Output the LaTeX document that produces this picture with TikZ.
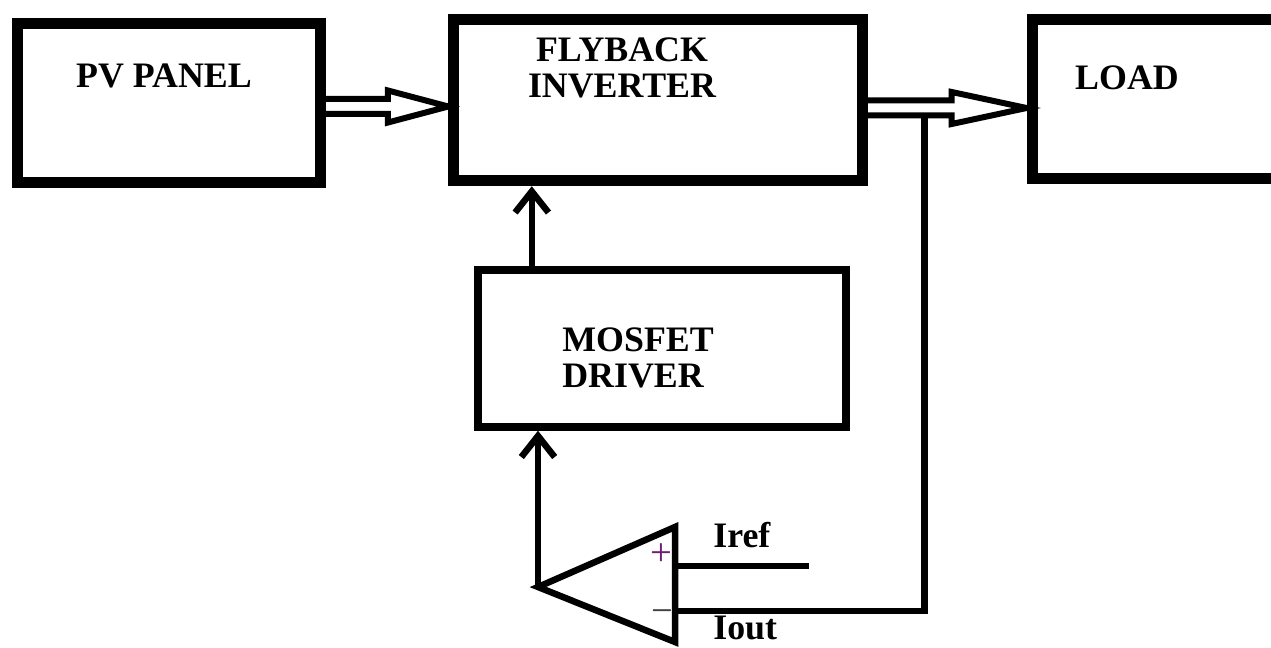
\documentclass[tikz,border=0pt]{standalone}
\usepackage{fontspec}
\setmainfont{Liberation Serif}
\usepackage{xcolor}
\usetikzlibrary{positioning,arrows.meta,calc}

\definecolor{plusclr}{RGB}{110,30,110}

\begin{document}
\begin{tikzpicture}[
  x=0.02cm, y=-0.02cm,
  block/.style={draw, line width=0.22cm, inner sep=0pt},
  thinblock/.style={draw, line width=0.15cm, inner sep=0pt},
  lbl/.style={inner sep=0pt, font=\fontsize{20.4}{21}\selectfont\bfseries, align=center},
  sgn/.style={inner sep=0pt, font=\fontsize{22}{22}\selectfont},
  sig/.style={line width=0.13cm},
  arr/.style={sig, -{Straight Barb[length=12pt, width=19pt]}},
  hollow/.style={line width=0.12cm, line join=miter},
]
  \path[use as bounding box, clip] (0,0) rectangle (1271,648);

  % blocks
  \node[block, minimum width=6.06cm, minimum height=3.2cm] (pv) at (169,103) {};
  \node[block, minimum width=8.17cm, minimum height=3.23cm] (fly) at (658,100) {};
  \node[block, minimum width=8cm, minimum height=3.2cm] (load) at (1232,99) {};
  \node[thinblock, minimum width=7.36cm, minimum height=3.14cm] (drv) at (662,348.5) {};

  % block texts
  \node[lbl, anchor=north] (pvtxt) at (164,63) {PV PANEL};
  \node[lbl, anchor=north] (flytxt) at (622,37) {FLYBACK\\INVERTER};
  \node[lbl, anchor=north] (loadtxt) at (1127,65) {LOAD};
  \node[lbl, anchor=north west, align=left] (drvtxt) at (562,327) {MOSFET\\DRIVER};

  % power flow (hollow arrows)
  \coordinate (a1) at ($(pv.east)+(0,3.5)$);
  \draw[hollow] ($(a1)+(0,-7.5)$) -- ($(a1)+(62,-7.5)$) -- ($(a1)+(62,-16)$)
    -- (fly.west |- a1) -- ($(a1)+(62,16)$) -- ($(a1)+(62,7.5)$) -- ($(a1)+(0,7.5)$);
  \coordinate (a2) at ($(fly.east)+(0,8)$);
  \draw[hollow] ($(a2)+(0,-7.5)$) -- ($(a2)+(84,-7.5)$) -- ($(a2)+(84,-16)$)
    -- (load.west |- a2) -- ($(a2)+(84,16)$) -- ($(a2)+(84,7.5)$) -- ($(a2)+(0,7.5)$);
  \coordinate (tap) at ($(a2)+(57,7.5)$);

  % comparator
  \coordinate (cmp) at (538,587);
  \coordinate (cmptop) at (675,527);
  \coordinate (cmpbot) at (675,642);
  \draw[sig, line join=miter] (cmp) -- (cmptop) -- (cmpbot) -- cycle;
  \coordinate (pin) at (675,566);
  \coordinate (nin) at (675,611);
  \coordinate (refend) at (809,566);
  \node[sgn, text=plusclr] (plus) at (661,555) {+};
  \node[sgn, text=black!75] (minus) at (662,617) {−};
  \node[lbl, anchor=north west] (reftxt) at (713,522) {Iref};
  \node[lbl, anchor=north west, text depth=0pt] (outtxt) at (713,616) {Iout};

  % signals
  \draw[sig] (pin) -- (refend);
  \draw[sig] (nin) -- (nin -| tap) -- (tap);
  \draw[arr] (cmp) -- (cmp |- drv.south);
  \coordinate (drvout) at ($(drv.north west)+(57.5,0)$);
  \draw[arr] (drvout) -- (drvout |- fly.south);
\end{tikzpicture}
\end{document}
